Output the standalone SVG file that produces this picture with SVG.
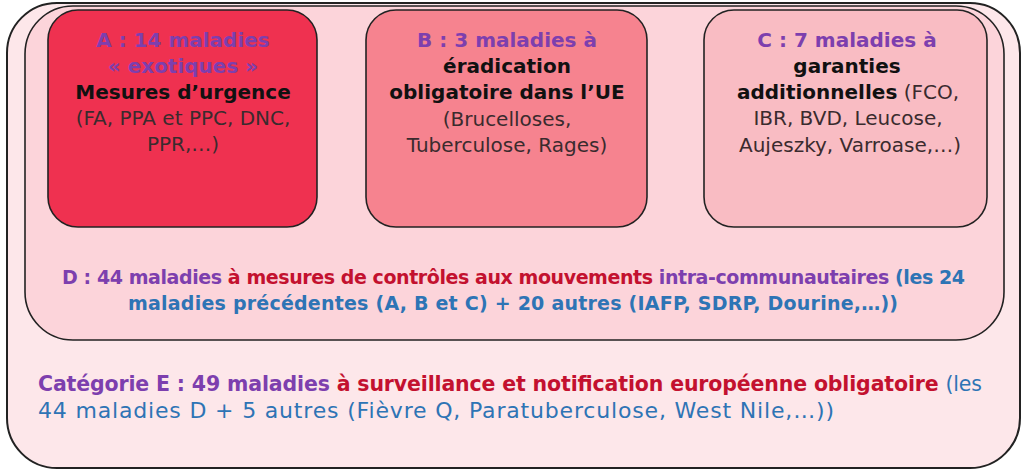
<svg xmlns="http://www.w3.org/2000/svg" width="1024" height="470" viewBox="0 0 1024 470">
<style>
text{font-family:"DejaVu Sans","Liberation Sans",sans-serif;}
.box{stroke:#222;stroke-width:1.6;}
.t{font-size:20px;text-anchor:middle;fill:#3a2b2e;}
.b{font-weight:bold;}
.n{font-weight:normal;}
.p{fill:#7d3fae;font-weight:bold;}
.k{fill:#111;font-weight:bold;}
.r{fill:#c3112f;font-weight:bold;}
.bl{fill:#2e74b5;}
.dd{font-size:19px;}
.ee{font-size:20.5px;}
.er{font-size:22px;}
</style>
<rect width="1024" height="470" fill="#fff"/>
<g id="E">
<rect x="7" y="3" width="1013" height="465" rx="50" ry="50" fill="#fde7ea" stroke="#222" stroke-width="2"/>
<text x="38" y="391" class="ee" textLength="944" lengthAdjust="spacing"><tspan class="p">Catégorie E : 49 maladies </tspan><tspan class="r">à surveillance et notification européenne obligatoire </tspan><tspan class="bl">(les</tspan></text>
<text x="38" y="418" class="er bl" textLength="796" lengthAdjust="spacing">44 maladies D + 5 autres (Fièvre Q, Paratuberculose, West Nile,…))</text>
</g>
<g id="D">
<rect x="25" y="6" width="979" height="334" rx="48" ry="48" fill="#fcd4da" class="box"/>
<text x="62" y="284" class="dd" textLength="903" lengthAdjust="spacing"><tspan class="p">D : 44 maladies </tspan><tspan class="r">à mesures de contrôles aux mouvements </tspan><tspan class="p n">intra-communautaires </tspan><tspan class="bl b">(les 24</tspan></text>
<text x="128" y="310" class="dd bl b" textLength="770" lengthAdjust="spacing">maladies précédentes (A, B et C) + 20 autres (IAFP, SDRP, Dourine,…))</text>
</g>
<g id="A">
<rect x="48" y="10" width="269" height="217" rx="30" ry="30" fill="#ef3150" class="box"/>
<text x="183" y="47" class="t p">A : 14 maladies</text>
<text x="183" y="73" class="t p">« exotiques »</text>
<text x="183" y="99" class="t k">Mesures d’urgence</text>
<text x="183" y="125" class="t">(FA, PPA et PPC, DNC,</text>
<text x="183" y="151" class="t">PPR,…)</text>
</g>
<g id="B">
<rect x="366" y="10" width="281" height="217" rx="30" ry="30" fill="#f6838f" class="box"/>
<text x="507" y="47" class="t p">B : 3 maladies à</text>
<text x="507" y="73" class="t k">éradication</text>
<text x="507" y="99" class="t k">obligatoire dans l’UE</text>
<text x="507" y="126" class="t">(Brucelloses,</text>
<text x="507" y="152" class="t">Tuberculose, Rages)</text>
</g>
<g id="C">
<rect x="704" y="10" width="283" height="217" rx="30" ry="30" fill="#f9bcc3" class="box"/>
<text x="847" y="47" class="t p">C : 7 maladies à</text>
<text x="847" y="73" class="t k">garanties</text>
<text x="848" y="99" class="t"><tspan class="k">additionnelles</tspan> (FCO,</text>
<text x="848" y="125" class="t">IBR, BVD, Leucose,</text>
<text x="850" y="152" class="t">Aujeszky, Varroase,…)</text>
</g>
<g id="connectors"></g>
</svg>
